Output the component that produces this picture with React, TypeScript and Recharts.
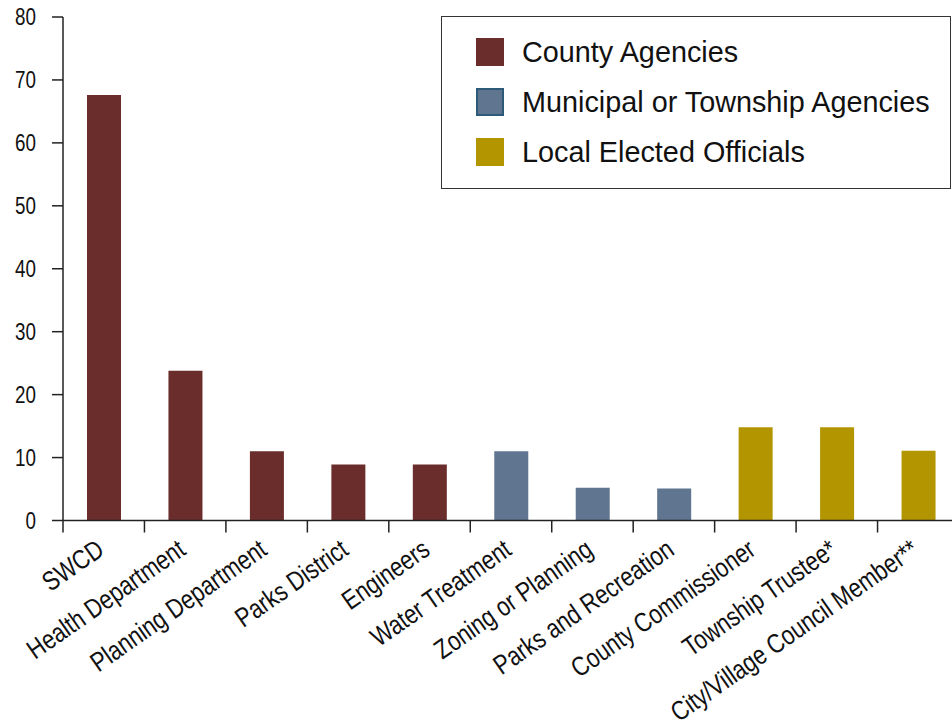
import React from 'react';
import { BarChart, Bar, XAxis, YAxis, Cell } from 'recharts';

const categories = [
  'SWCD',
  'Health Department',
  'Planning Department',
  'Parks District',
  'Engineers',
  'Water Treatment',
  'Zoning or Planning',
  'Parks and Recreation',
  'County Commissioner',
  'Township Trustee*',
  'City/Village Council Member**',
];
const values = [67.6, 23.8, 11.0, 8.9, 8.9, 11.0, 5.2, 5.1, 14.8, 14.8, 11.1];
const groupOf = [0, 0, 0, 0, 0, 1, 1, 1, 2, 2, 2];
const groupNames = ['County Agencies', 'Municipal or Township Agencies', 'Local Elected Officials'];
const groupFills = ['#6b2c2c', '#5f7590', '#b39500'];
const groupStrokes = ['#6b2c2c', '#2c5a78', '#b39500'];
const yTicks = [0, 10, 20, 30, 40, 50, 60, 70, 80];

const data = categories.map((name, i) => ({ name, value: values[i], group: groupOf[i] }));

const AXIS_COLOR = '#222';
const TICK_FONT = '"Liberation Sans", Arial, sans-serif';

const XTick = (props: any) => {
  const { x, y, payload } = props;
  const off = payload && typeof payload.offset === 'number' ? payload.offset : 0;
  const ax = x + 2;
  const ay = y + 21;
  return (
    <g>
      <line x1={x - off} x2={x - off} y1={y - 12} y2={y} stroke={AXIS_COLOR} strokeWidth={1.5} />
      <text
        x={0}
        y={0}
        textAnchor="end"
        transform={`translate(${ax}, ${ay}) rotate(-35) scale(0.82, 1)`}
        fontFamily={TICK_FONT}
        fontSize={27}
        fill="#111"
      >
        {payload.value}
      </text>
    </g>
  );
};

const YTick = (props: any) => {
  const { x, y, payload } = props;
  return (
    <text
      x={0}
      y={0}
      dy="0.36em"
      textAnchor="end"
      transform={`translate(${x}, ${y}) scale(0.8, 1)`}
      fontFamily={TICK_FONT}
      fontSize={23.5}
      fill="#111"
    >
      {payload.value}
    </text>
  );
};

const LegendBox = () => (
  <div
    style={{
      position: 'absolute',
      left: 441,
      top: 16,
      width: 510,
      height: 173,
      border: '1.5px solid #333',
      boxSizing: 'border-box',
      background: '#fff',
      paddingTop: 10,
      fontFamily: '"Liberation Sans", Arial, sans-serif',
    }}
  >
    {groupNames.map((g, i) => (
      <div key={g} style={{ display: 'flex', alignItems: 'center', height: 50, paddingLeft: 34 }}>
        <div
          style={{
            width: 28,
            height: 28,
            background: groupFills[i],
            border: `2px solid ${groupStrokes[i]}`,
            boxSizing: 'border-box',
            marginRight: 18,
            flexShrink: 0,
          }}
        />
        <span style={{ fontSize: 28.8, color: '#111', whiteSpace: 'nowrap' }}>{g}</span>
      </div>
    ))}
  </div>
);

export default function App() {
  return (
    <div style={{ position: 'absolute', left: 0, top: 0, width: 952, height: 726, overflow: 'hidden', background: '#fff' }}>
      <BarChart
        width={959}
        height={726}
        data={data}
        margin={{ top: 17, right: 0, bottom: 0, left: 0 }}
        barCategoryGap={0}
      >
        <XAxis
          dataKey="name"
          interval={0}
          height={205.5}
          tickLine={false}
          tickSize={12}
          tickMargin={0}
          axisLine={{ stroke: AXIS_COLOR, strokeWidth: 1.5 }}
          tick={<XTick />}
        />
        <YAxis
          domain={[0, 80]}
          ticks={yTicks}
          width={63}
          tickSize={11}
          tickMargin={16}
          axisLine={{ stroke: AXIS_COLOR, strokeWidth: 1.5 }}
          tickLine={{ stroke: AXIS_COLOR, strokeWidth: 1.5 }}
          tick={<YTick />}
        />
        <Bar dataKey="value" barSize={34} isAnimationActive={false}>
          {data.map((d, i) => (
            <Cell key={i} fill={groupFills[d.group]} />
          ))}
        </Bar>
      </BarChart>
      <LegendBox />
    </div>
  );
}
